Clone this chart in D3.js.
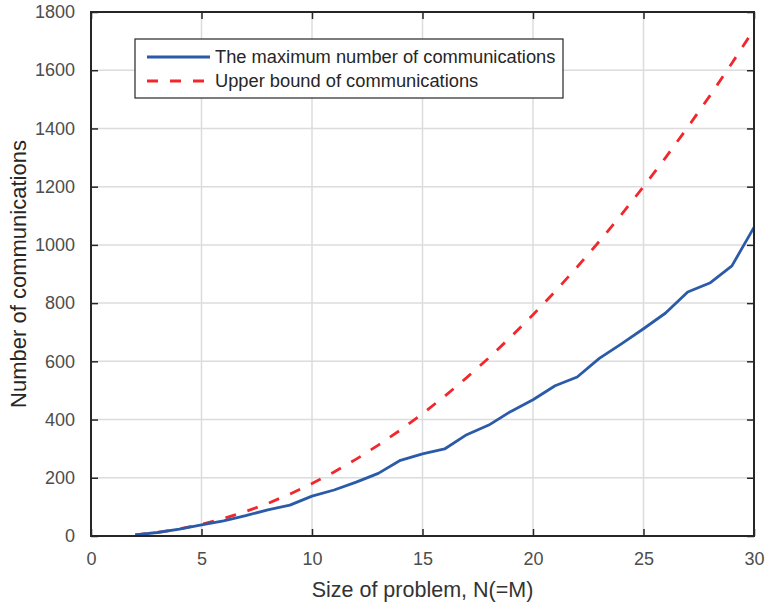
<!DOCTYPE html>
<html><head><meta charset="utf-8">
<script src="https://cdn.jsdelivr.net/npm/d3@7"></script>
<style>body{margin:0;background:#fff;}svg{display:block;font-family:"Liberation Sans",Arial,sans-serif;}</style>
</head><body>
<svg id="c" width="768" height="609"></svg>
<script>
const sizes = [2,3,4,5,6,7,8,9,10,11,12,13,14,15,16,17,18,19,20,21,22,23,24,25,26,27,28,29,30];
const maxComm = [4,12,24,38,52,70,90,106,137,158,185,215,260,282,299,348,381,428,468,516,546,610,660,712,766,838,869,928,1060];
const upperBound = [4,12,24,40,60,84,112,144,180,220,264,312,364,420,480,544,612,684,760,840,924,1012,1104,1200,1300,1404,1512,1624,1740];
const xTicks = [0,5,10,15,20,25,30];
const yTicks = [0,200,400,600,800,1000,1200,1400,1600,1800];
const seriesNames = ["The maximum number of communications","Upper bound of communications"];
const xLabel = "Size of problem, N(=M)";
const yLabel = "Number of communications";

const svg = d3.select("#c");
const L=91, R=754, T=12, B=536;
const x = d3.scaleLinear().domain([0,30]).range([L,R]);
const y = d3.scaleLinear().domain([0,1800]).range([B,T]);
const axisCol="#262626", tickTextCol="#4d4d4d";

// grid
const g = svg.append("g");
g.selectAll(".gx").data(xTicks.slice(1,-1)).enter().append("line")
 .attr("x1",d=>x(d)).attr("x2",d=>x(d)).attr("y1",T).attr("y2",B)
 .attr("stroke","#dcdcdc").attr("stroke-width",1.5);
g.selectAll(".gy").data(yTicks.slice(1,-1)).enter().append("line")
 .attr("y1",d=>y(d)).attr("y2",d=>y(d)).attr("x1",L).attr("x2",R)
 .attr("stroke","#dcdcdc").attr("stroke-width",1.5);

// lines
const line = d3.line().x((d,i)=>x(sizes[i])).y(d=>y(d));
svg.append("path").datum(upperBound).attr("d",line).attr("fill","none")
 .attr("stroke","#f0282d").attr("stroke-width",2.8).attr("stroke-dasharray","11,12");
svg.append("path").datum(maxComm).attr("d",line).attr("fill","none")
 .attr("stroke","#2b5ba8").attr("stroke-width",2.8).attr("stroke-linejoin","round");

// axes
function styleAxis(sel){
  sel.select(".domain").remove();
  sel.selectAll(".tick line").attr("stroke",axisCol).attr("stroke-width",1.5);
  sel.selectAll(".tick text").attr("fill",tickTextCol).style("font-size","18px");
}
const fmt = d3.format("d");
const xb = svg.append("g").attr("transform",`translate(0,${B})`)
 .call(d3.axisBottom(x).tickValues(xTicks).tickFormat(fmt).tickSizeInner(-7).tickSizeOuter(0).tickPadding(16));
styleAxis(xb);
const xt = svg.append("g").attr("transform",`translate(0,${T})`)
 .call(d3.axisTop(x).tickValues(xTicks).tickSizeInner(-7).tickSizeOuter(0).tickFormat(""));
styleAxis(xt);
const yl = svg.append("g").attr("transform",`translate(${L},0)`)
 .call(d3.axisLeft(y).tickValues(yTicks).tickFormat(fmt).tickSizeInner(-7).tickSizeOuter(0).tickPadding(16));
styleAxis(yl);
const yr = svg.append("g").attr("transform",`translate(${R},0)`)
 .call(d3.axisRight(y).tickValues(yTicks).tickSizeInner(-7).tickSizeOuter(0).tickFormat(""));
styleAxis(yr);
svg.append("rect").attr("x",L).attr("y",T).attr("width",R-L).attr("height",B-T)
 .attr("fill","none").attr("stroke",axisCol).attr("stroke-width",2);

// labels
svg.append("text").attr("x",(L+R)/2).attr("y",597).attr("text-anchor","middle")
 .attr("fill","#333").style("font-size","21.5px").text(xLabel);
svg.append("text").attr("transform",`translate(26,${(T+B)/2}) rotate(-90)`).attr("text-anchor","middle")
 .attr("fill","#262626").style("font-size","22px").text(yLabel);

// legend
const lg = svg.append("g");
lg.append("rect").attr("x",135).attr("y",39).attr("width",428).attr("height",59)
 .attr("fill","#fff").attr("stroke","#262626").attr("stroke-width",1.2);
const cols=["#2b5ba8","#f0282d"], dash=[null,"11,12"];
seriesNames.forEach((n,i)=>{
  const yy = 57 + i*24;
  lg.append("line").attr("x1",147).attr("x2",210).attr("y1",yy).attr("y2",yy)
   .attr("stroke",cols[i]).attr("stroke-width",2.8).attr("stroke-dasharray",dash[i]);
  lg.append("text").attr("x",215).attr("y",yy+6).attr("fill","#262626")
   .style("font-size","18.3px").text(n);
});
</script>
</body></html>
